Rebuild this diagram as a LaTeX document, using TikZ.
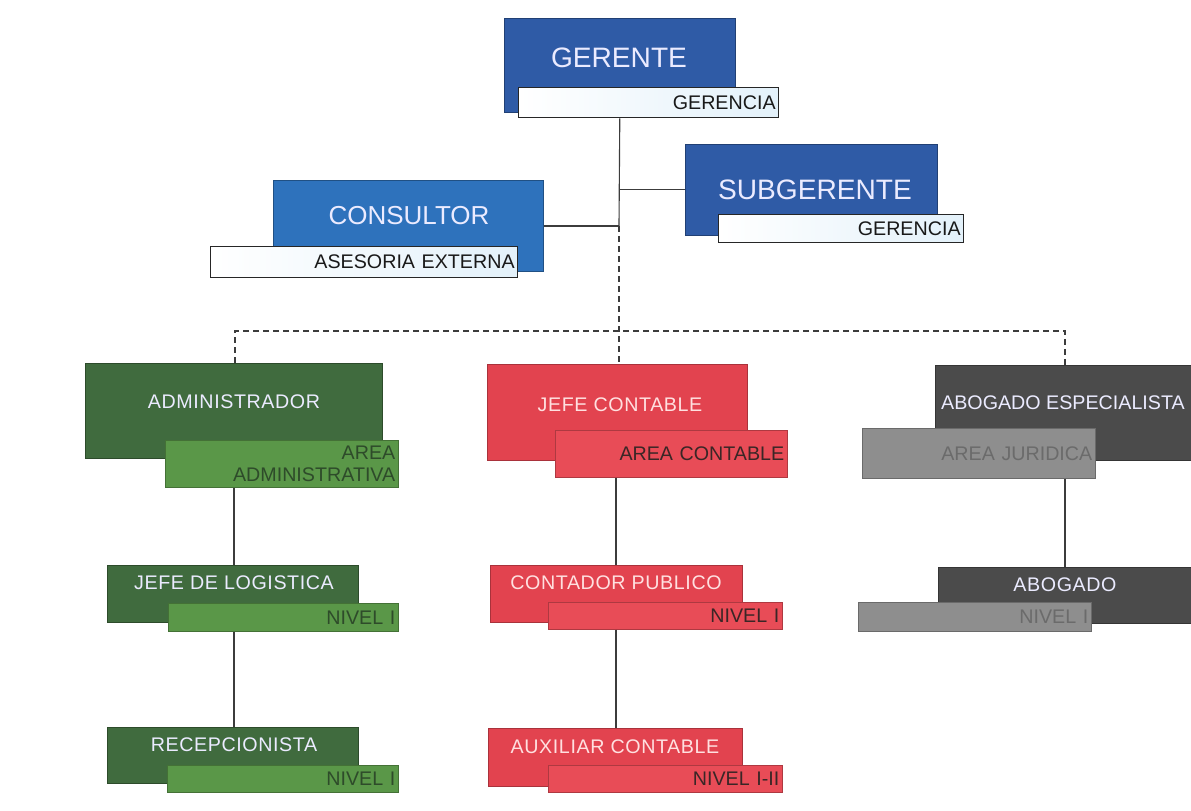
\documentclass[tikz,border=0pt]{standalone}
\usepackage{fontspec}
\setmainfont{Liberation Sans}
\newlength\pxu
\setlength\pxu{0.25mm}

\definecolor{bluedark}{HTML}{2F5BA6}
\definecolor{bluelight}{HTML}{2E72BC}
\definecolor{bluetint}{HTML}{E3F1FA}
\definecolor{greendark}{HTML}{406B3E}
\definecolor{greenlight}{HTML}{5A9748}
\definecolor{greentext}{HTML}{2E4B2A}
\definecolor{reddark}{HTML}{E2434F}
\definecolor{redlight}{HTML}{E84C57}
\definecolor{redtext}{HTML}{3A2626}
\definecolor{graydark}{HTML}{4B4B4B}
\definecolor{graylight}{HTML}{8E8E8E}
\definecolor{graytext}{HTML}{6B6B6B}
\definecolor{linecol}{HTML}{3C3C3C}

\begin{document}
\begin{tikzpicture}[x=0.25mm, y=-0.25mm,
  box/.style={rectangle, anchor=north west, inner sep=0pt},
  mainblue/.style={box, fill=bluedark, draw=bluedark!70!black},
  mainazure/.style={box, fill=bluelight, draw=bluelight!70!black},
  maingreen/.style={box, fill=greendark, draw=greendark!70!black},
  mainred/.style={box, fill=reddark, draw=reddark!75!black},
  maingray/.style={box, fill=graydark, draw=graydark!70!black},
  sub/.style={box, inner xsep=3\pxu, align=right,
    font=\fontsize{14}{15.5}\selectfont},
  subblue/.style={sub, left color=white, right color=bluetint, draw=black!85, line width=0.9pt, text=black!90},
  subgreen/.style={sub, fill=greenlight, draw=greenlight!75!black, text=greentext},
  subred/.style={sub, fill=redlight, draw=redlight!75!black, text=redtext},
  subgray/.style={sub, fill=graylight, draw=graylight!75!black, text=graytext},
  title/.style={inner sep=0pt, text=white!92!blue, font=\fontsize{14}{17}\selectfont\addfontfeature{LetterSpace=3}},
  bigtitle/.style={title, font=\fontsize{20}{24}\selectfont},
  link/.style={draw=linecol, line width=0.8pt},
  dlink/.style={link, dash pattern=on 6\pxu off 4\pxu}]

\useasboundingbox (0,0) rectangle (1191,811);

% Gerencia
\node[mainblue, minimum width=231\pxu, minimum height=94\pxu] (gerente) at (504,18) {};
\node[bigtitle] (gerente-t) at (619,58) {GERENTE};
\node[subblue, text width=254\pxu, minimum height=30\pxu] (gerencia) at (518,87) {GERENCIA};

\node[mainazure, minimum width=270\pxu, minimum height=91\pxu] (consultor) at (273,180) {};
\node[bigtitle, font=\fontsize{18.5}{22}\selectfont] (consultor-t) at (409,216) {CONSULTOR};
\node[subblue, text width=301\pxu, minimum height=31\pxu] (asesoria) at (210,246) {ASESORIA EXTERNA};

\node[mainblue, minimum width=252\pxu, minimum height=91\pxu] (subgerente) at (685,144) {};
\node[bigtitle] (subgerente-t) at (815,190) {SUBGERENTE};
\node[subblue, text width=239\pxu, minimum height=28\pxu] (gerencia2) at (718,214) {GERENCIA};

% Area administrativa
\node[maingreen, minimum width=297\pxu, minimum height=95\pxu] (admin) at (85,363) {};
\node[title] (admin-t) at (234,402) {ADMINISTRADOR};
\node[subgreen, text width=227\pxu, minimum height=47\pxu] (areaadm) at (165,440) {AREA\\ADMINISTRATIVA};

\node[maingreen, minimum width=251\pxu, minimum height=57\pxu] (logistica) at (107,565) {};
\node[title] (logistica-t) at (234,583) {JEFE DE LOGISTICA};
\node[subgreen, text width=224\pxu, minimum height=28\pxu] (nivel1) at (168,603) {NIVEL I};

\node[maingreen, minimum width=251\pxu, minimum height=56\pxu] (recep) at (107,727) {};
\node[title] (recep-t) at (234,745) {RECEPCIONISTA};
\node[subgreen, text width=225\pxu, minimum height=27\pxu] (nivel2) at (167,765) {NIVEL I};

% Area contable
\node[mainred, minimum width=260\pxu, minimum height=96\pxu] (jefecont) at (487,364) {};
\node[title, text=white!88!red] (jefecont-t) at (620,405) {JEFE CONTABLE};
\node[subred, text width=226\pxu, minimum height=47\pxu] (areacont) at (555,430) {AREA CONTABLE};

\node[mainred, minimum width=252\pxu, minimum height=57\pxu] (contador) at (490,565) {};
\node[title, text=white!88!red] (contador-t) at (616,583) {CONTADOR PUBLICO};
\node[subred, text width=228\pxu, minimum height=27\pxu] (nivel3) at (548,602) {NIVEL I};

\node[mainred, minimum width=254\pxu, minimum height=58\pxu] (auxiliar) at (488,728) {};
\node[title, text=white!88!red] (auxiliar-t) at (615,747) {AUXILIAR CONTABLE};
\node[subred, text width=228\pxu, minimum height=27\pxu] (nivel4) at (548,765) {NIVEL I-II};

% Area juridica
\node[maingray, minimum width=256\pxu, minimum height=95\pxu] (abogesp) at (935,365) {};
\node[title, font=\fontsize{14}{17}\selectfont] (abogesp-t) at (1063,403) {ABOGADO ESPECIALISTA};
\node[subgray, text width=227\pxu, minimum height=50\pxu] (areajur) at (862,428) {AREA JURIDICA};

\node[maingray, minimum width=253\pxu, minimum height=56\pxu] (abogado) at (938,567) {};
\node[title] (abogado-t) at (1065,585) {ABOGADO};
\node[subgray, text width=227\pxu, minimum height=29\pxu] (nivel5) at (858,602) {NIVEL I};

% Connectors
\coordinate (hub) at (619,226);
\coordinate (busl) at (235,331);
\coordinate (busr) at (1065,331);
\draw[link] (gerencia.south -| gerente.north) -- (hub);
\draw[link] (hub) -- (hub -| consultor.east);
\draw[link] (subgerente.west -| gerente.north) -- (subgerente.west);
\draw[dlink] (hub) -- (hub |- jefecont.north);
\draw[dlink] (admin.north -| busl) -- (busl) -- (busr) -- (busr |- abogesp.north);

\draw[link] (areaadm.south -| admin-t) -- (logistica.north -| admin-t);
\draw[link] (nivel1.south -| admin-t) -- (recep.north -| admin-t);
\draw[link] (areacont.south -| contador-t) -- (contador.north -| contador-t);
\draw[link] (nivel3.south -| contador-t) -- (auxiliar.north -| contador-t);
\draw[link] (areajur.south -| abogado-t) -- (abogado.north -| abogado-t);
\end{tikzpicture}
\end{document}
